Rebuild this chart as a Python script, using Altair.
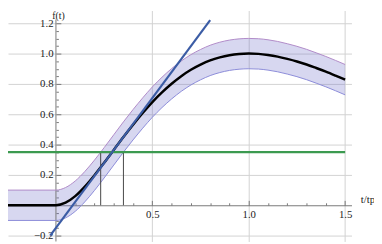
import altair as alt
import pandas as pd

# ---- data ----
t_vals = [-0.25, 0.0, 0.05, 0.1, 0.15, 0.2, 0.25, 0.3, 0.35, 0.4, 0.45, 0.5, 0.55, 0.6, 0.65,
          0.7, 0.75, 0.8, 0.85, 0.9, 0.95, 1.0, 1.05, 1.1, 1.15, 1.2, 1.25, 1.3, 1.35, 1.4, 1.45, 1.5]
f_vals = [0.0, 0.0, 0.017, 0.06, 0.123, 0.198, 0.28, 0.365, 0.45, 0.531, 0.608, 0.68, 0.744, 0.801, 0.851,
          0.893, 0.927, 0.955, 0.975, 0.989, 0.997, 1.0, 0.998, 0.991, 0.98, 0.965, 0.948, 0.928, 0.905, 0.881, 0.855, 0.828]
upper_vals = [0.1, 0.1, 0.117, 0.16, 0.223, 0.298, 0.38, 0.465, 0.55, 0.631, 0.708, 0.78, 0.844, 0.901, 0.951,
              0.993, 1.027, 1.055, 1.075, 1.089, 1.097, 1.1, 1.098, 1.091, 1.08, 1.065, 1.048, 1.028, 1.005, 0.981, 0.955, 0.928]
lower_vals = [-0.1, -0.1, -0.083, -0.04, 0.023, 0.098, 0.18, 0.265, 0.35, 0.431, 0.508, 0.58, 0.644, 0.701, 0.751,
              0.793, 0.827, 0.855, 0.875, 0.889, 0.897, 0.9, 0.898, 0.891, 0.88, 0.865, 0.848, 0.828, 0.805, 0.781, 0.755, 0.728]

threshold_t = [-0.25, 1.5]
threshold_y = [0.35, 0.35]

tangent_t = [-0.03, 0.80]
tangent_y = [-0.2, 1.22]

marker_t = [0.232, 0.35]
marker_y0 = [0.0, 0.0]
marker_y1 = [0.35, 0.35]

# vertical axis line extent (x = 0)
axis_line_t = [0.0]
axis_line_y0 = [-0.2387]
axis_line_y1 = [1.225]

x_ticks = [0.1, 0.2, 0.3, 0.4, 0.5, 0.6, 0.7, 0.8, 0.9, 1.0, 1.1, 1.2, 1.3, 1.4, 1.5]
y_ticks = [-0.2, -0.15, -0.1, -0.05, 0.05, 0.1, 0.15, 0.2, 0.25, 0.3, 0.35, 0.4, 0.45, 0.5, 0.55, 0.6,
           0.65, 0.7, 0.75, 0.8, 0.85, 0.9, 0.95, 1.0, 1.05, 1.1, 1.15, 1.2]

# ---- layout ----
W, H = 351, 236
x_dom = [-0.2487, 1.533]
y_dom = [-0.2387, 1.2839]
x0_px = W * (0 - x_dom[0]) / (x_dom[1] - x_dom[0])
y0_px = H * (y_dom[1] - 0) / (y_dom[1] - y_dom[0])

FONT = "Liberation Serif, Times New Roman, serif"
AXIS_GREY = "#777777"
major_x = "abs(datum.value*2 - round(datum.value*2)) < 0.001"
major_y = "abs(datum.value*5 - round(datum.value*5)) < 0.001"

x_axis = alt.Axis(
    orient="top", offset=-y0_px, values=x_ticks,
    labelExpr=f"({major_x}) ? format(datum.value, '.1f') : ''",
    labelBaseline="top", labelAlign="center", labelPadding=-9,
    labelFont=FONT, labelFontSize=11, labelColor="#222222",
    labelOverlap=False, labelFlush=False,
    tickSize={"condition": {"test": major_x, "value": 5}, "value": 2.5},
    tickColor=AXIS_GREY, domainColor=AXIS_GREY,
    grid=True, gridColor="#d2d2d2",
    gridOpacity={"condition": {"test": major_x, "value": 1}, "value": 0},
    title="t/tp", titleX=360, titleY=-6, titleAlign="left", titleBaseline="middle",
    titleAngle=0, titleFont=FONT, titleFontSize=11, titleFontWeight="normal", titleColor="#222222",
)
y_axis = alt.Axis(
    orient="right", offset=x0_px - W, values=y_ticks, domain=False,
    labelExpr=f"({major_y}) && abs(datum.value) > 0.001 ? format(datum.value, '.1f') : ''",
    labelBaseline="middle", labelAlign="right", labelPadding=-8,
    labelFont=FONT, labelFontSize=11, labelColor="#222222",
    labelOverlap=False, labelFlush=False,
    tickSize={"condition": {"test": major_y, "value": 5}, "value": 2.5},
    tickColor=AXIS_GREY,
    grid=True, gridColor="#d2d2d2",
    gridOpacity={"condition": {"test": major_y, "value": 1}, "value": 0},
    title="f(t)", titleX=2, titleY=0, titleAlign="center", titleBaseline="top",
    titleAngle=0, titleFont=FONT, titleFontSize=10, titleFontWeight="normal", titleColor="#222222",
)
xs = alt.Scale(domain=x_dom, nice=False, zero=False)
ys = alt.Scale(domain=y_dom, nice=False, zero=False)

curve = pd.DataFrame({"t": t_vals, "f": f_vals, "upper": upper_vals, "lower": lower_vals})
thr = pd.DataFrame({"t": threshold_t, "f": threshold_y})
tan = pd.DataFrame({"t": tangent_t, "f": tangent_y})
mk = pd.DataFrame({"t": marker_t, "f": marker_y0, "f2": marker_y1})
ax = pd.DataFrame({"t": axis_line_t, "f": axis_line_y0, "f2": axis_line_y1})

band = alt.Chart(curve).mark_area(color="#7070c8", opacity=0.28, interpolate="monotone").encode(
    x=alt.X("t:Q", scale=xs, axis=x_axis),
    y=alt.Y("lower:Q", scale=ys, axis=y_axis),
    y2="upper:Q",
)
yaxis_line = alt.Chart(ax).mark_rule(color=AXIS_GREY, strokeWidth=1).encode(
    x=alt.X("t:Q", scale=xs, axis=x_axis),
    y=alt.Y("f:Q", scale=ys, axis=y_axis),
    y2="f2:Q",
)
up_edge = alt.Chart(curve).mark_line(color="#b08ac8", strokeWidth=1, interpolate="monotone").encode(
    x=alt.X("t:Q", scale=xs, axis=x_axis),
    y=alt.Y("upper:Q", scale=ys, axis=y_axis),
)
lo_edge = alt.Chart(curve).mark_line(color="#8a8ad8", strokeWidth=1, interpolate="monotone").encode(
    x=alt.X("t:Q", scale=xs, axis=x_axis),
    y=alt.Y("lower:Q", scale=ys, axis=y_axis),
)
main = alt.Chart(curve).mark_line(color="#000000", strokeWidth=2.5, interpolate="monotone").encode(
    x=alt.X("t:Q", scale=xs, axis=x_axis),
    y=alt.Y("f:Q", scale=ys, axis=y_axis),
)
markers = alt.Chart(mk).mark_rule(color="#444444", strokeWidth=1).encode(
    x=alt.X("t:Q", scale=xs, axis=x_axis),
    y=alt.Y("f:Q", scale=ys, axis=y_axis),
    y2="f2:Q",
)
green = alt.Chart(thr).mark_line(color="#3c9a50", strokeWidth=2.2).encode(
    x=alt.X("t:Q", scale=xs, axis=x_axis),
    y=alt.Y("f:Q", scale=ys, axis=y_axis),
)
blue = alt.Chart(tan).mark_line(color="#3b5ca5", strokeWidth=2.2).encode(
    x=alt.X("t:Q", scale=xs, axis=x_axis),
    y=alt.Y("f:Q", scale=ys, axis=y_axis),
)

chart = alt.layer(band, yaxis_line, up_edge, lo_edge, main, markers, green, blue).properties(
    width=W, height=H,
    autosize=alt.AutoSizeParams(type="none"),
    padding={"left": 0, "top": 0, "right": 23, "bottom": 0},
    background="white",
).configure_view(stroke=None)

chart.save("out.html", embed_options={"renderer": "svg", "actions": False})
